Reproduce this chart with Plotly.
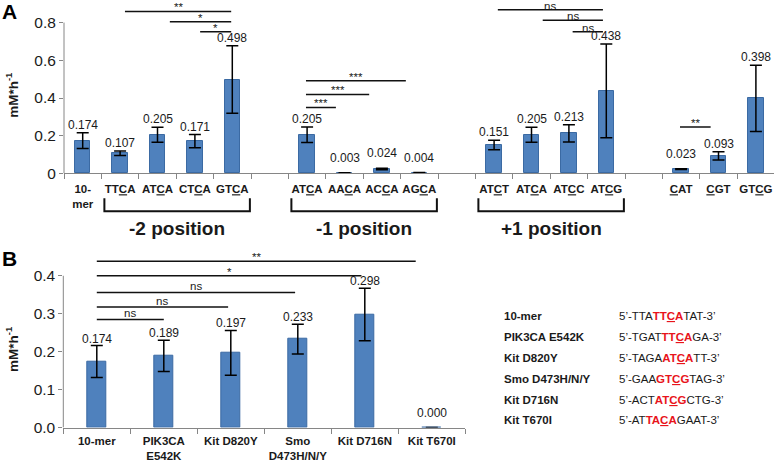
import plotly.graph_objects as go

W, H = 774, 467
FONT = "Liberation Sans"

# ---------------- data: panel A ----------------
a_categories = ["10-mer", "TTCA", "ATCA", "CTCA", "GTCA", "",
                "ATCA", "AACA", "ACCA", "AGCA", "",
                "ATCT", "ATCA", "ATCC", "ATCG", "",
                "CAT", "CGT", "GTCG"]
a_cut_index = [None, 2, 2, 2, 2, None, 2, 2, 2, 2, None, 2, 2, 2, 2, None, 0, 0, 2]
a_values = [0.174, 0.107, 0.205, 0.171, 0.498, None,
            0.205, 0.003, 0.024, 0.004, None,
            0.151, 0.205, 0.213, 0.438, None,
            0.023, 0.093, 0.398]
a_errors = [0.042, 0.012, 0.040, 0.035, 0.179, None,
            0.041, 0.001, 0.004, 0.001, None,
            0.025, 0.040, 0.046, 0.248, None,
            0.002, 0.022, 0.176]
a_groups = ["-2 position", "-1 position", "+1 position"]
a_group_members = [(1, 4), (6, 9), (11, 14)]
# significance comparisons: (x start, x end in category units, height, label)
a_sig = [(1.13, 3.97, 0.859, "**"), (2.33, 3.97, 0.805, "*"), (3.14, 3.97, 0.751, "*"),
         (5.97, 6.77, 0.350, "***"), (5.97, 7.66, 0.419, "***"), (5.97, 8.64, 0.492, "***"),
         (11.10, 13.91, 0.868, "ns"), (12.30, 13.91, 0.812, "ns"), (13.10, 13.91, 0.751, "ns"),
         (15.97, 16.79, 0.246, "**")]
a_yticks = [0, 0.2, 0.4, 0.6, 0.8]
a_yticktext = ["0", "0.2", "0.4", "0.6", "0.8"]

# ---------------- data: panel B ----------------
b_categories = ["10-mer", "PIK3CA<br>E542K", "Kit D820Y", "Smo<br>D473H/N/Y", "Kit D716N", "Kit T670I"]
b_values = [0.174, 0.189, 0.197, 0.233, 0.298, 0.000]
b_errors = [0.042, 0.041, 0.059, 0.039, 0.069, 0.0]
b_sig = [(0, 1.0, 0.285, "ns"), (0, 1.96, 0.318, "ns"), (0, 2.96, 0.356, "ns"),
         (0, 3.95, 0.400, "*"), (0, 4.76, 0.4386, "**")]
b_yticks = [0.0, 0.1, 0.2, 0.3, 0.4]
b_yticktext = ["0.0", "0.1", "0.2", "0.3", "0.4"]

seq_names = ["10-mer", "PIK3CA E542K", "Kit D820Y", "Smo D473H/N/Y", "Kit D716N", "Kit T670I"]
seq_pre = ["TTA", "TGAT", "TAGA", "GAA", "ACT", "AT"]
seq_motif = ["TTCA", "TTCA", "ATCA", "GTCG", "ATCG", "TACA"]
seq_post = ["TAT", "GA", "TT", "TAG", "CTG", "GAAT"]

# ---------------- geometry ----------------
A_X0, A_SLOT = 64.0, 37.4
A_Y0, A_UNIT = 176.5, 191.9
B_X0, B_X1 = 63.3, 465.3
B_Y0, B_Y1, B_UNIT = 435.0, 250.0, 386.0

BAR = "#4F81BD"
BAR_LINE = "#3B6AA3"
AXC = "#868686"
TXT = "#1a1a1a"


def px(x):
    return x / W


def py(y):
    return 1 - y / H


def underline_cut(s, i):
    if i is None:
        return s
    return s[:i] + "<u>" + s[i] + "</u>" + s[i + 1:]


a_idx = [k for k, v in enumerate(a_values) if v is not None]
a_ticktext = []
for k in a_idx:
    c, i = a_categories[k], a_cut_index[k]
    if c == "10-mer":
        a_ticktext.append("<b>10-<br>mer</b>")
    else:
        a_ticktext.append("<b>" + underline_cut(c, i) + "</b>")

fig = go.Figure()

fig.add_trace(go.Bar(
    x=a_idx, y=[a_values[k] for k in a_idx],
    width=0.41, marker=dict(color=BAR, line=dict(color=BAR_LINE, width=1)),
    error_y=dict(type="data", array=[a_errors[k] for k in a_idx], color="black",
                 thickness=1.5, width=6),
    xaxis="x", yaxis="y", showlegend=False, hoverinfo="skip"))

fig.add_trace(go.Bar(
    x=list(range(len(b_values))), y=b_values,
    width=0.29, marker=dict(color=BAR, line=dict(color=BAR_LINE, width=1)),
    error_y=dict(type="data", array=b_errors, color="black", thickness=1.5, width=6),
    xaxis="x2", yaxis="y2", showlegend=False, hoverinfo="skip"))

annotations = []
shapes = []

# value labels
for k in a_idx:
    top = a_values[k] + a_errors[k]
    annotations.append(dict(x=k, y=top, xref="x", yref="y", text=f"{a_values[k]:.3f}",
                            showarrow=False, yanchor="middle", yshift=8 if top > 0.05 else 15,
                            font=dict(size=12, color=TXT, family=FONT)))
for k, v in enumerate(b_values):
    top = v + b_errors[k]
    annotations.append(dict(x=k, y=top, xref="x2", yref="y2", text=f"{v:.3f}",
                            showarrow=False, yanchor="middle", yshift=7 if top > 0.05 else 15,
                            font=dict(size=12, color=TXT, family=FONT)))

# significance lines
for x0, x1, y, lab in a_sig:
    shapes.append(dict(type="line", xref="x", yref="y", x0=x0, x1=x1, y0=y, y1=y,
                       line=dict(color="#111", width=1.5)))
    annotations.append(dict(x=(x0 + x1) / 2, y=y, xref="x", yref="y", text=lab,
                            showarrow=False, yanchor="bottom",
                            yshift=-4,
                            font=dict(size=11.5, color=TXT, family=FONT)))
for x0, x1, y, lab in b_sig:
    shapes.append(dict(type="line", xref="x2", yref="y2", x0=x0, x1=x1, y0=y, y1=y,
                       line=dict(color="#111", width=1.5)))
    annotations.append(dict(x=(x0 + x1) / 2, y=y, xref="x2", yref="y2", text=lab,
                            showarrow=False, yanchor="bottom",
                            yshift=-4 if "*" in lab else -2,
                            font=dict(size=11.5, color=TXT, family=FONT)))

# group brackets under panel A
for name, (f, l) in zip(a_groups, a_group_members):
    x0, x1 = f - 0.42, l + 0.47
    ya, yb = py(201.7), py(215)
    shapes.append(dict(type="path", xref="x", yref="paper",
                       path=f"M {x0},{ya} L {x0},{yb} L {x1},{yb} L {x1},{ya}",
                       line=dict(color="#111", width=2)))
    annotations.append(dict(x=(x0 + x1) / 2, y=py(232), xref="x", yref="paper",
                            text=f"<b>{name}</b>", showarrow=False, yanchor="middle",
                            font=dict(size=19, color=TXT, family=FONT)))

# y axis lines limited to the tick range
shapes.append(dict(type="line", xref="paper", yref="y", x0=px(A_X0), x1=px(A_X0), y0=0, y1=0.8,
                   line=dict(color=AXC, width=1)))
shapes.append(dict(type="line", xref="paper", yref="y2", x0=px(B_X0), x1=px(B_X0), y0=0, y1=0.4,
                   line=dict(color=AXC, width=1)))

# panel letters & y titles
annotations.append(dict(x=px(0), y=py(12), xref="paper", yref="paper", text="<b>A</b>",
                        showarrow=False, xanchor="left", yanchor="middle",
                        font=dict(size=21, color="black", family=FONT)))
annotations.append(dict(x=px(0), y=py(263), xref="paper", yref="paper", text="<b>B</b>",
                        showarrow=False, xanchor="left", yanchor="middle",
                        font=dict(size=21, color="black", family=FONT)))
for ycen in (97.5, 356):
    annotations.append(dict(x=px(12), y=py(ycen), xref="paper", yref="paper",
                            text="<b>mM*h<sup>-1</sup></b>", textangle=-90, showarrow=False,
                            xanchor="center", yanchor="middle",
                            font=dict(size=13.5, color=TXT, family=FONT)))

# sequence table
for r, name in enumerate(seq_names):
    yc = py(321.7 + r * 21.2)
    annotations.append(dict(x=px(502), y=yc, xref="paper", yref="paper", text=f"<b>{name}</b>",
                            showarrow=False, xanchor="left", yanchor="middle",
                            font=dict(size=11.5, color=TXT, family=FONT)))
    motif = seq_motif[r]
    motif_html = motif[:2] + "<u>" + motif[2] + "</u>" + motif[3:]
    seq = (f"5\u2019-{seq_pre[r]}<span style='color:#E8141B'><b>{motif_html}</b></span>"
           f"{seq_post[r]}-3\u2019")
    annotations.append(dict(x=px(617), y=yc, xref="paper", yref="paper", text=seq,
                            showarrow=False, xanchor="left", yanchor="middle",
                            font=dict(size=11.5, color=TXT, family=FONT)))

fig.update_layout(
    width=W, height=H, margin=dict(l=0, r=0, t=0, b=0),
    paper_bgcolor="white", plot_bgcolor="white",
    font=dict(family=FONT, color=TXT),
    bargap=0,
    xaxis=dict(domain=[px(A_X0), 1], range=[-0.5, -0.5 + (W - A_X0) / A_SLOT],
               tickmode="array", tickvals=a_idx, ticktext=a_ticktext,
               ticks="", showline=True, linecolor=AXC, linewidth=1, showgrid=False,
               zeroline=False, tickfont=dict(size=11.5, color=TXT, family=FONT),
               ticklabelstandoff=5,
               minor=dict(tickmode="array", tickvals=[k - 0.5 for k in range(len(a_categories) + 1)],
                          ticks="outside", ticklen=5, tickcolor=AXC, tickwidth=1, showgrid=False),
               anchor="y", fixedrange=True),
    yaxis=dict(domain=[py(A_Y0), 1], range=[0, A_Y0 / A_UNIT],
               tickmode="array", tickvals=a_yticks, ticktext=a_yticktext,
               ticks="outside", ticklen=4, tickcolor=AXC, showline=False, showgrid=False,
               zeroline=False, tickfont=dict(size=15.5, color=TXT, family=FONT),
               anchor="x", fixedrange=True),
    xaxis2=dict(domain=[px(B_X0), px(B_X1)], range=[-0.5, 5.5],
                tickmode="array", tickvals=list(range(len(b_categories))),
                ticktext=[f"<b>{c}</b>" for c in b_categories],
                ticks="", showline=True, linecolor=AXC, linewidth=1, showgrid=False,
                zeroline=False, tickfont=dict(size=11.5, color=TXT, family=FONT),
                ticklabelstandoff=3,
                minor=dict(tickmode="array", tickvals=[k - 0.5 for k in range(len(b_categories) + 1)],
                           ticks="outside", ticklen=5, tickcolor=AXC, tickwidth=1, showgrid=False),
                anchor="y2", fixedrange=True),
    yaxis2=dict(domain=[py(B_Y0), py(B_Y1)], range=[0, (B_Y0 - B_Y1) / B_UNIT],
                tickmode="array", tickvals=b_yticks, ticktext=b_yticktext,
                ticks="outside", ticklen=4, tickcolor=AXC, showline=False, showgrid=False,
                zeroline=False, tickfont=dict(size=15.5, color=TXT, family=FONT),
                anchor="x2", fixedrange=True),
    annotations=annotations, shapes=shapes,
)

fig.write_html("out.html", config={"displayModeBar": False},
               post_script="document.body.style.margin='0px';")
